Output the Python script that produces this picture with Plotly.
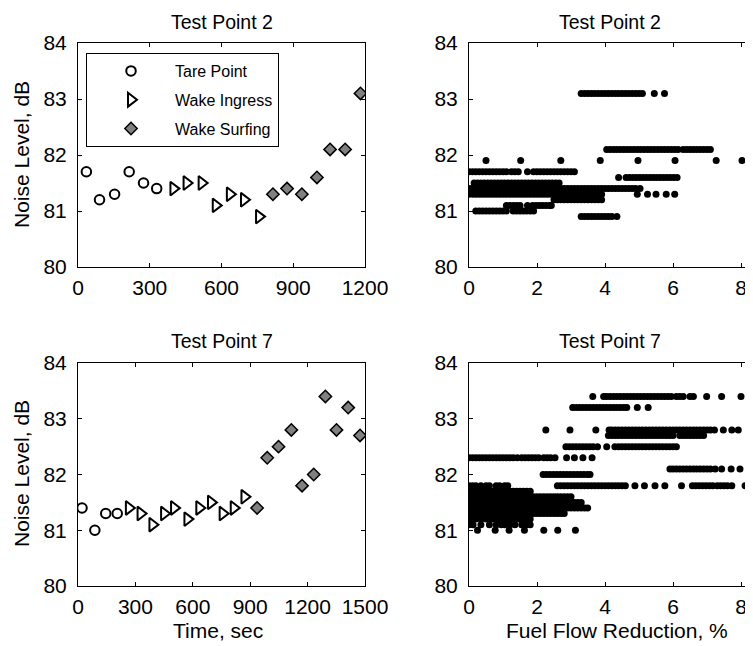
import plotly.graph_objects as go

# ---------------- Data: Test Point 2, noise vs time ----------------
tp2_tare_t = [35, 90, 153, 214, 274, 329]
tp2_tare_db = [81.7, 81.2, 81.3, 81.7, 81.5, 81.4]
tp2_ingress_t = [399, 454, 517, 576, 635, 694, 757]
tp2_ingress_db = [81.4, 81.5, 81.5, 81.1, 81.3, 81.2, 80.9]
tp2_surf_t = [815, 874, 936, 999, 1054, 1117, 1181]
tp2_surf_db = [81.3, 81.4, 81.3, 81.6, 82.1, 82.1, 83.1]

# ---------------- Data: Test Point 7, noise vs time ----------------
tp7_tare_t = [21, 88, 145, 205]
tp7_tare_db = [81.4, 81.0, 81.3, 81.3]
tp7_ingress_t = [266, 327, 389, 450, 502, 572, 634, 695, 756, 814, 870]
tp7_ingress_db = [81.4, 81.3, 81.1, 81.3, 81.4, 81.2, 81.4, 81.5, 81.3, 81.4, 81.6]
tp7_surf_t = [936, 989, 1048, 1115, 1171, 1232, 1293, 1351, 1412, 1474]
tp7_surf_db = [81.4, 82.3, 82.5, 82.8, 81.8, 82.0, 83.4, 82.8, 83.2, 82.7]

# ---------------- Data: Test Point 2, noise vs fuel flow reduction ----------------
tp2_ff_levels = [83.1, 82.1, 81.9, 81.7, 81.6, 81.5, 81.4, 81.3, 81.2, 81.1, 81.0, 80.9]
tp2_ff_rows = [
    [3.3, 3.4, 3.5, 3.6, 3.7, 3.8, 3.9, 4.0, 4.1, 4.2, 4.3, 4.4, 4.5, 4.6, 4.7, 4.8, 4.9, 5.0, 5.1, 5.45, 5.75],
    [4.05, 4.15, 4.25, 4.35, 4.45, 4.55, 4.65, 4.75, 4.85, 4.95, 5.05, 5.15, 5.25, 5.35, 5.45, 5.55, 5.65,
     5.75, 5.85, 5.95, 6.05, 6.15, 6.3, 6.4, 6.5, 6.6, 6.7, 6.8, 6.9, 7.0, 7.1],
    [0.5, 1.52, 2.7, 3.86, 4.97, 6.06, 7.27, 8.03],
    [0.0, 0.1, 0.2, 0.3, 0.4, 0.5, 0.6, 0.7, 0.8, 0.9, 1.0, 1.1, 1.25, 1.35, 1.45, 1.72, 1.9, 2.0, 2.1, 2.2,
     2.3, 2.4, 2.5, 2.6, 2.7, 2.8, 2.9, 3.0, 3.1],
    [4.4, 4.62, 4.72, 4.82, 4.92, 5.02, 5.12, 5.22, 5.32, 5.42, 5.52, 5.62, 5.72, 5.82, 5.92, 6.02, 6.12],
    [0.15, 0.25, 0.35, 0.45, 0.55, 0.65, 0.75, 0.85, 0.95, 1.05, 1.15, 1.25, 1.35, 1.45, 1.55, 1.65, 1.75,
     1.85, 1.95, 2.05, 2.15, 2.25, 2.35, 2.45, 2.55, 2.65],
    [0.0, 0.1, 0.2, 0.3, 0.4, 0.5, 0.6, 0.7, 0.8, 0.9, 1.0, 1.1, 1.2, 1.3, 1.4, 1.5, 1.6, 1.7, 1.8, 1.9, 2.0,
     2.1, 2.2, 2.3, 2.4, 2.5, 2.6, 2.7, 2.8, 2.9, 3.0, 3.1, 3.2, 3.3, 3.4, 3.5, 3.6, 3.7, 3.8, 3.9, 4.0, 4.1,
     4.2, 4.3, 4.4, 4.5, 4.6, 4.7, 4.8, 4.9, 5.03],
    [0.0, 0.1, 0.2, 0.3, 0.4, 0.5, 0.6, 0.7, 0.8, 0.9, 1.0, 1.1, 1.2, 1.3, 1.4, 1.5, 1.6, 1.7, 1.8, 1.9, 2.0,
     2.1, 2.2, 2.3, 2.4, 2.5, 2.6, 2.7, 2.8, 2.9, 3.0, 3.1, 3.2, 3.3, 3.4, 3.5, 3.6, 3.7, 3.8, 3.9, 4.95,
     5.25, 5.5, 5.8, 6.05],
    [2.5, 2.6, 2.7, 2.8, 2.9, 3.0, 3.1, 3.2, 3.3, 3.4, 3.5, 3.6, 3.7, 3.8, 3.9],
    [1.1, 1.2, 1.3, 1.4, 1.5, 1.72, 1.87, 1.97, 2.07, 2.17, 2.27, 2.37, 2.42],
    [0.2, 0.3, 0.4, 0.5, 0.6, 0.7, 0.8, 0.9, 1.0, 1.1, 1.3, 1.4, 1.5, 1.6, 1.7, 1.8, 1.9],
    [3.3, 3.4, 3.5, 3.6, 3.7, 3.8, 3.9, 4.0, 4.1, 4.2, 4.35],
]

# ---------------- Data: Test Point 7, noise vs fuel flow reduction ----------------
tp7_ff_levels = [83.4, 83.2, 82.8, 82.7, 82.5, 82.3, 82.1, 82.0, 81.8, 81.7, 81.6, 81.5, 81.4, 81.3,
                 81.2, 81.1, 81.0]
tp7_ff_rows = [
    [3.64, 3.96, 4.05, 4.15, 4.25, 4.35, 4.45, 4.55, 4.65, 4.75, 4.85, 4.95, 5.05, 5.15, 5.25, 5.35, 5.45,
     5.55, 5.65, 5.75, 5.85, 5.95, 6.1, 6.2, 6.3, 6.5, 6.6, 6.99, 7.43, 8.0],
    [3.05, 3.15, 3.25, 3.35, 3.45, 3.55, 3.65, 3.75, 3.85, 3.95, 4.05, 4.15, 4.25, 4.35, 4.45, 4.55, 4.64,
     4.95, 5.27],
    [2.26, 2.97, 3.73, 4.12, 4.2, 4.3, 4.4, 4.5, 4.6, 4.7, 4.8, 4.9, 5.0, 5.1, 5.2, 5.3, 5.4, 5.5, 5.6, 5.7,
     5.8, 5.9, 6.0, 6.1, 6.2, 6.3, 6.4, 6.5, 6.6, 6.7, 6.8, 6.9, 7.0, 7.1, 7.22, 7.48, 7.73, 7.92, 8.26],
    [4.1, 4.2, 4.3, 4.4, 4.5, 4.6, 4.7, 4.8, 4.9, 5.0, 5.1, 5.2, 5.3, 5.4, 5.5, 5.6, 5.7, 5.8, 5.9, 6.0,
     6.2, 6.3, 6.4, 6.5, 6.6, 6.7, 6.8, 6.9],
    [2.85, 2.95, 3.05, 3.15, 3.25, 3.35, 3.45, 3.55, 3.65, 3.78, 4.05, 4.29, 4.4, 4.5, 4.6, 4.7, 4.8, 4.9,
     5.0, 5.1, 5.2, 5.3, 5.4, 5.5, 5.6, 5.7, 5.8, 5.9, 6.0, 6.1],
    [0.0, 0.1, 0.2, 0.3, 0.4, 0.5, 0.6, 0.7, 0.8, 0.9, 1.0, 1.1, 1.2, 1.3, 1.42, 1.55, 1.65, 1.75, 1.85,
     1.95, 2.05, 2.2, 2.3, 2.4, 2.53, 2.87, 3.1, 3.35, 3.62],
    [5.91, 6.0, 6.1, 6.2, 6.3, 6.4, 6.5, 6.6, 6.7, 6.8, 6.9, 7.0, 7.1, 7.24, 7.43, 7.71, 7.97, 8.26],
    [2.18, 2.28, 2.38, 2.48, 2.58, 2.68, 2.78, 2.88, 2.98, 3.08, 3.18, 3.28, 3.38, 3.48, 3.56],
    [0.0, 0.1, 0.2, 0.35, 0.5, 0.6, 0.8, 0.9, 1.05, 1.14, 2.6, 2.7, 2.8, 2.9, 3.0, 3.1, 3.2, 3.3, 3.4, 3.5,
     3.6, 3.7, 3.8, 3.9, 4.0, 4.1, 4.2, 4.3, 4.4, 4.5, 4.6, 4.88, 5.16, 5.47, 5.76, 6.25, 6.57, 6.67, 6.77,
     6.87, 6.97, 7.07, 7.17, 7.3, 7.4, 7.5, 7.6, 7.73, 8.12],
    [0.0, 0.1, 0.2, 0.3, 0.4, 0.5, 0.6, 0.7, 0.8, 0.9, 1.0, 1.1, 1.2, 1.3, 1.4, 1.5, 1.6, 1.7, 1.8],
    [0.0, 0.1, 0.2, 0.3, 0.4, 0.5, 0.6, 0.7, 0.8, 0.9, 1.0, 1.1, 1.2, 1.3, 1.4, 1.5, 1.6, 1.7, 1.8, 1.9,
     2.0, 2.1, 2.2, 2.3, 2.4, 2.5, 2.6, 2.7, 2.8, 2.9, 3.0],
    [0.0, 0.1, 0.2, 0.3, 0.4, 0.5, 0.6, 0.7, 0.8, 0.9, 1.0, 1.1, 1.2, 1.3, 1.4, 1.5, 1.6, 1.7, 1.8, 1.9,
     2.0, 2.1, 2.2, 2.3, 2.4, 2.5, 2.6, 2.7, 2.8, 2.9, 3.0, 3.1, 3.2, 3.3],
    [0.0, 0.1, 0.2, 0.3, 0.4, 0.5, 0.6, 0.7, 0.8, 0.9, 1.0, 1.1, 1.2, 1.3, 1.4, 1.5, 1.6, 1.7, 1.8, 1.9,
     2.0, 2.1, 2.2, 2.3, 2.4, 2.5, 2.6, 2.7, 2.8, 2.9, 3.0, 3.1, 3.2, 3.3, 3.4, 3.49],
    [0.0, 0.1, 0.2, 0.3, 0.4, 0.5, 0.6, 0.7, 0.8, 0.9, 1.0, 1.1, 1.2, 1.3, 1.4, 1.5, 1.6, 1.7, 1.8, 1.9,
     2.0, 2.1, 2.2, 2.3, 2.4, 2.5, 2.6, 2.7, 2.8],
    [0.0, 0.1, 0.2, 0.35, 0.5, 0.6, 0.7, 0.85, 1.0, 1.1, 1.2, 1.3, 1.45, 1.55, 1.65, 1.8],
    [0.0, 0.12, 0.35, 0.6, 0.8, 0.95, 1.05, 1.2, 1.35, 1.55, 1.7, 1.8],
    [0.25, 0.77, 1.18, 1.63, 2.2, 2.61, 3.13],
]

x_ticks_tp2 = [0, 300, 600, 900, 1200]
x_ticks_tp7 = [0, 300, 600, 900, 1200, 1500]
x_ticks_ff = [0, 2, 4, 6, 8]
y_ticks = [80, 81, 82, 83, 84]

FONT = "Liberation Sans, Arial, sans-serif"
# The page shows the figure offset by the 8 px body margin, so the figure is sized to the visible area.
W, H = 745, 638


def flatten(levels, rows):
    xs, ys = [], []
    for lev, row in zip(levels, rows):
        for v in row:
            xs.append(v)
            ys.append(lev)
    return xs, ys


tare_style = dict(symbol="circle-open", size=9.5, color="black", line=dict(width=2, color="black"))
ingress_style = dict(symbol="triangle-right-open", size=12, color="black", line=dict(width=2, color="black"))
surf_style = dict(symbol="diamond", size=9.5, color="#808080", line=dict(width=1.5, color="black"))

fig = go.Figure()

for (tt, td, it, idb, st, sdb, xa, ya, leg) in [
    (tp2_tare_t, tp2_tare_db, tp2_ingress_t, tp2_ingress_db, tp2_surf_t, tp2_surf_db, "x", "y", True),
    (tp7_tare_t, tp7_tare_db, tp7_ingress_t, tp7_ingress_db, tp7_surf_t, tp7_surf_db, "x3", "y3", False),
]:
    fig.add_trace(go.Scatter(x=tt, y=td, mode="markers", marker=tare_style, name="Tare Point",
                             legendgroup="g1", showlegend=leg, xaxis=xa, yaxis=ya))
    fig.add_trace(go.Scatter(x=it, y=idb, mode="markers", marker=ingress_style, name="Wake Ingress",
                             legendgroup="g2", showlegend=leg, xaxis=xa, yaxis=ya))
    fig.add_trace(go.Scatter(x=st, y=sdb, mode="markers", marker=surf_style, name="Wake Surfing",
                             legendgroup="g3", showlegend=leg, xaxis=xa, yaxis=ya))

for levels, rows, xa, ya in [(tp2_ff_levels, tp2_ff_rows, "x2", "y2"),
                             (tp7_ff_levels, tp7_ff_rows, "x4", "y4")]:
    fx, fy = flatten(levels, rows)
    fig.add_trace(go.Scatter(x=fx, y=fy, mode="markers",
                             marker=dict(symbol="circle", size=7, color="black", line=dict(width=0)),
                             showlegend=False, xaxis=xa, yaxis=ya))

left_dom = [70 / W, 357 / W]
right_dom = [461 / W, 1.0]
top_dom = [(H - 259) / H, (H - 35) / H]
bot_dom = [(H - 578) / H, (H - 355) / H]
ff_range = [0, (W - 461) / 34.0]

axis_common = dict(showline=True, linecolor="black", linewidth=1, ticks="inside", ticklen=4,
                   tickcolor="black", tickwidth=1, showgrid=False, zeroline=False, automargin=False,
                   tickfont=dict(family=FONT, size=21, color="black"))
xcommon = dict(axis_common, ticklabelstandoff=2)
ycommon = dict(axis_common, ticklabelstandoff=6)

fig.update_layout(
    width=W, height=H,
    margin=dict(l=0, r=0, t=0, b=0, autoexpand=False),
    paper_bgcolor="white", plot_bgcolor="white",
    font=dict(family=FONT, color="black"),
    xaxis=dict(xcommon, domain=left_dom, range=[0, 1200], tickvals=x_ticks_tp2, mirror="ticks", anchor="y"),
    yaxis=dict(ycommon, domain=top_dom, range=[80, 84], tickvals=y_ticks, mirror="ticks", anchor="x"),
    xaxis2=dict(xcommon, domain=right_dom, range=ff_range, tickvals=x_ticks_ff, mirror="ticks", anchor="y2"),
    yaxis2=dict(ycommon, domain=top_dom, range=[80, 84], tickvals=y_ticks, mirror=False, anchor="x2"),
    xaxis3=dict(xcommon, domain=left_dom, range=[0, 1500], tickvals=x_ticks_tp7, mirror="ticks", anchor="y3"),
    yaxis3=dict(ycommon, domain=bot_dom, range=[80, 84], tickvals=y_ticks, mirror="ticks", anchor="x3"),
    xaxis4=dict(xcommon, domain=right_dom, range=ff_range, tickvals=x_ticks_ff, mirror="ticks", anchor="y4"),
    yaxis4=dict(ycommon, domain=bot_dom, range=[80, 84], tickvals=y_ticks, mirror=False, anchor="x4"),
    legend=dict(x=78 / W, y=1 - 45 / H, xanchor="left", yanchor="top", bgcolor="white",
                bordercolor="black", borderwidth=1, font=dict(family=FONT, size=16, color="black"),
                itemwidth=78, tracegroupgap=5),
)

titles = [
    dict(text="Test Point 2", x=214 / W, y=1 - 14 / H),
    dict(text="Test Point 2", x=602 / W, y=1 - 14 / H),
    dict(text="Test Point 7", x=214 / W, y=1 - 333 / H),
    dict(text="Test Point 7", x=602 / W, y=1 - 333 / H),
]
for a in titles:
    fig.add_annotation(xref="paper", yref="paper", showarrow=False, xanchor="center", yanchor="middle",
                       font=dict(family=FONT, size=19.5, color="black"), **a)

labels = [
    dict(text="Noise Level, dB", x=13 / W, y=1 - 147 / H, textangle=-90),
    dict(text="Noise Level, dB", x=13 / W, y=1 - 466 / H, textangle=-90),
    dict(text="Time, sec", x=210 / W, y=1 - 622 / H, textangle=0),
    dict(text="Fuel Flow Reduction, %", x=609 / W, y=1 - 622 / H, textangle=0),
]
for a in labels:
    fig.add_annotation(xref="paper", yref="paper", showarrow=False, xanchor="center", yanchor="middle",
                       font=dict(family=FONT, size=21, color="black"), **a)

fig.write_html("out.html")
